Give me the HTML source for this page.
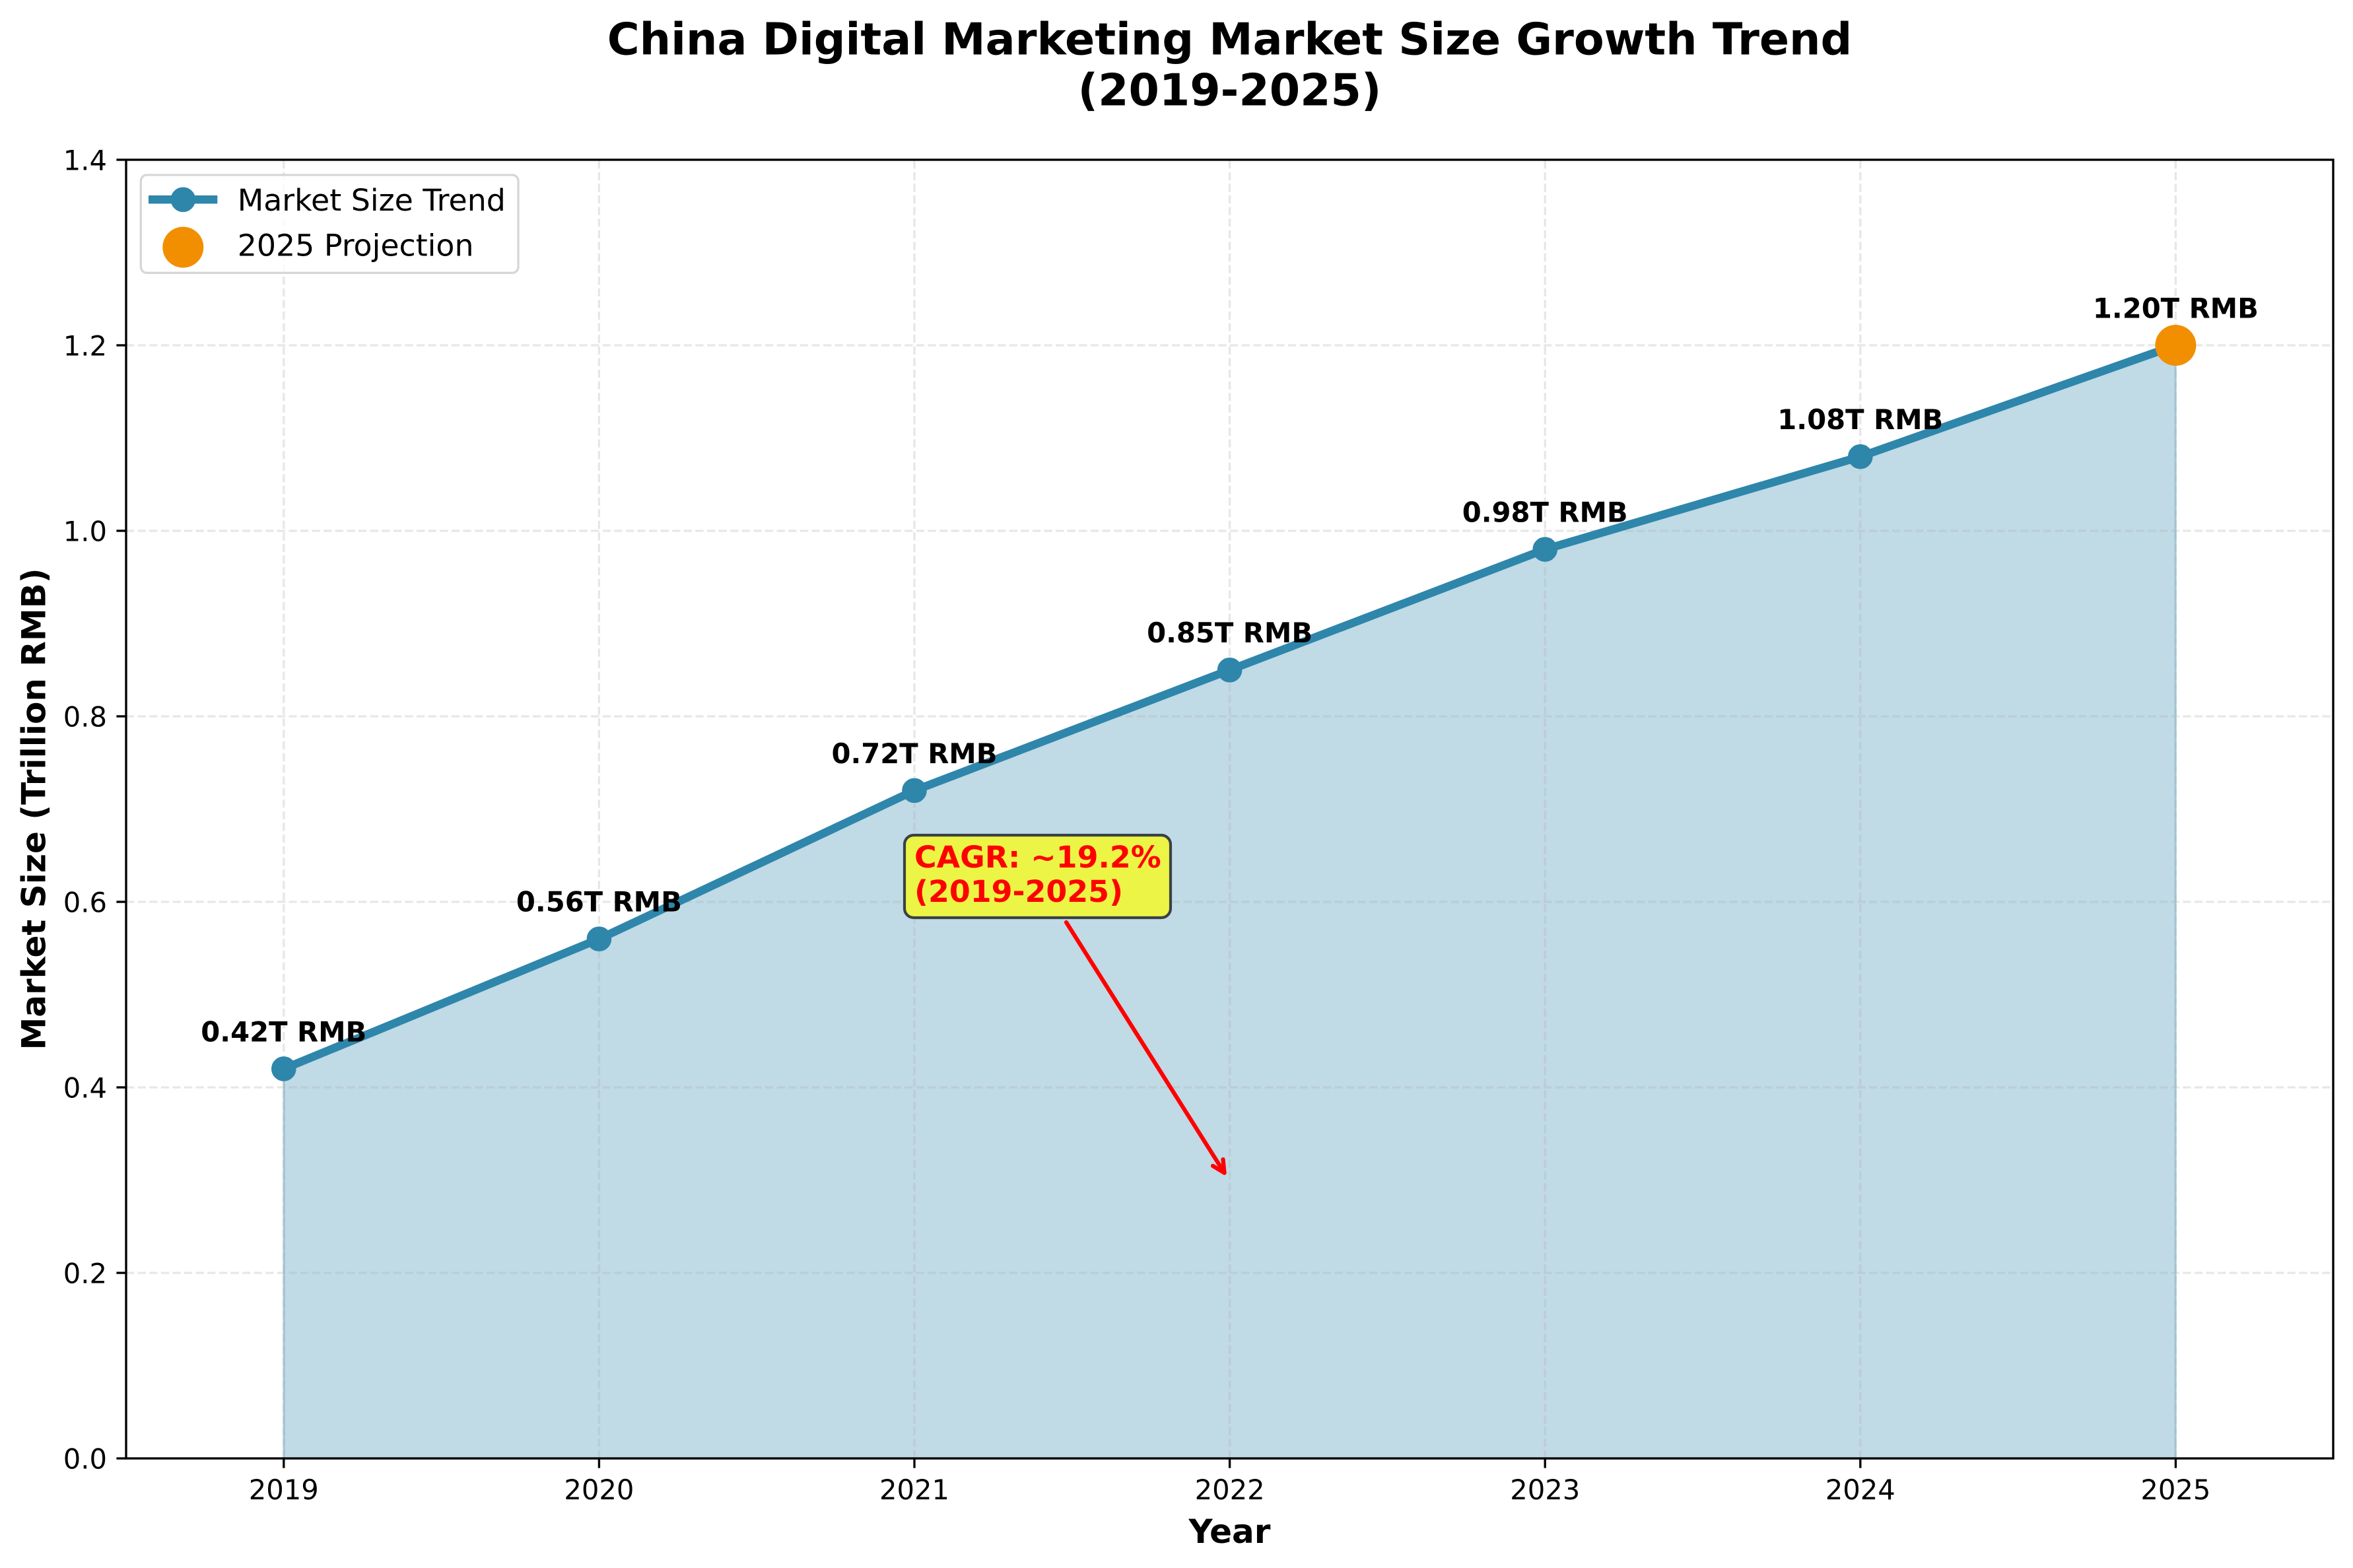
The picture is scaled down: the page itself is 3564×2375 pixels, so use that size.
<!DOCTYPE html>
<html>
<head>
<meta charset="utf-8">
<style>
html,body{margin:0;padding:0;background:#fff;}
svg{display:block;}
text{font-family:"DejaVu Sans","Liberation Sans",sans-serif;}
</style>
</head>
<body>
<svg width="3564" height="2375" viewBox="0 0 3564 2375" xmlns="http://www.w3.org/2000/svg">
<rect x="0" y="0" width="3564" height="2375" fill="#ffffff"/>

<!-- Title -->
<text x="1862.5" y="82.3" font-size="66.67" font-weight="bold" text-anchor="middle" fill="#000">China Digital Marketing Market Size Growth Trend</text>
<text x="1862.5" y="159.3" font-size="66.67" font-weight="bold" text-anchor="middle" fill="#000">(2019-2025)</text>

<!-- Fill area -->
<polygon points="429.8,2209 429.8,1618.9 907.4,1422.2 1385,1197.4 1862.6,1014.8 2340.2,832.1 2817.8,691.6 3295.4,523 3295.4,2209"
  fill="#2E86AB" fill-opacity="0.3" stroke="#2E86AB" stroke-opacity="0.3" stroke-width="3.3"/>

<!-- Grid -->
<g stroke="#b0b0b0" stroke-opacity="0.3" stroke-width="3.33" stroke-dasharray="12.3 5.3" fill="none">
  <line x1="191" y1="1928" x2="3534" y2="1928"/>
  <line x1="191" y1="1647" x2="3534" y2="1647"/>
  <line x1="191" y1="1366" x2="3534" y2="1366"/>
  <line x1="191" y1="1085" x2="3534" y2="1085"/>
  <line x1="191" y1="804" x2="3534" y2="804"/>
  <line x1="191" y1="523" x2="3534" y2="523"/>
  <line x1="429.8" y1="2209" x2="429.8" y2="242"/>
  <line x1="907.4" y1="2209" x2="907.4" y2="242"/>
  <line x1="1385" y1="2209" x2="1385" y2="242"/>
  <line x1="1862.6" y1="2209" x2="1862.6" y2="242"/>
  <line x1="2340.2" y1="2209" x2="2340.2" y2="242"/>
  <line x1="2817.8" y1="2209" x2="2817.8" y2="242"/>
  <line x1="3295.4" y1="2209" x2="3295.4" y2="242"/>
</g>

<!-- Main line -->
<polyline points="429.8,1618.9 907.4,1422.2 1385,1197.4 1862.6,1014.8 2340.2,832.1 2817.8,691.6 3295.4,523"
  fill="none" stroke="#2E86AB" stroke-width="12.5" stroke-linejoin="round" stroke-linecap="square"/>

<!-- Markers -->
<g fill="#2E86AB" stroke="#2E86AB" stroke-width="4.17">
  <circle cx="429.8" cy="1618.9" r="16.7"/>
  <circle cx="907.4" cy="1422.2" r="16.7"/>
  <circle cx="1385" cy="1197.4" r="16.7"/>
  <circle cx="1862.6" cy="1014.8" r="16.7"/>
  <circle cx="2340.2" cy="832.1" r="16.7"/>
  <circle cx="2817.8" cy="691.6" r="16.7"/>
  <circle cx="3295.4" cy="523" r="16.7"/>
</g>

<!-- 2025 projection -->
<circle cx="3295.4" cy="523" r="31" fill="#F18F01"/>

<!-- Data labels -->
<g font-size="41.67" font-weight="bold" text-anchor="middle" fill="#000">
  <text x="429.8" y="1577.4">0.42T RMB</text>
  <text x="907.4" y="1380.7">0.56T RMB</text>
  <text x="1385" y="1155.9">0.72T RMB</text>
  <text x="1862.6" y="973.2">0.85T RMB</text>
  <text x="2340.2" y="790.6">0.98T RMB</text>
  <text x="2817.8" y="650.1">1.08T RMB</text>
  <text x="3295.4" y="481.6">1.20T RMB</text>
</g>

<!-- CAGR annotation arrow -->
<g stroke="#ff0000" stroke-width="6.25" stroke-linecap="round" stroke-linejoin="round" fill="none">
  <line x1="1615" y1="1397" x2="1854.5" y2="1776.5"/>
  <polyline points="1852.5,1756.1 1854.5,1776.5 1837.0,1765.9"/>
</g>

<!-- CAGR box -->
<rect x="1370" y="1265" width="403" height="125" rx="14" ry="14" fill="#ecf445" stroke="#3a4245" stroke-width="4.17"/>
<g font-size="45.83" font-weight="bold" fill="#ff0000">
  <text x="1385" y="1314">CAGR: ~19.2%</text>
  <text x="1385" y="1365.8">(2019-2025)</text>
</g>

<!-- Spines -->
<rect x="191" y="242" width="3343" height="1967" fill="none" stroke="#000" stroke-width="3.33"/>

<!-- Y ticks -->
<g stroke="#000" stroke-width="3.33">
  <line x1="176.4" y1="2209" x2="191" y2="2209"/>
  <line x1="176.4" y1="1928" x2="191" y2="1928"/>
  <line x1="176.4" y1="1647" x2="191" y2="1647"/>
  <line x1="176.4" y1="1366" x2="191" y2="1366"/>
  <line x1="176.4" y1="1085" x2="191" y2="1085"/>
  <line x1="176.4" y1="804" x2="191" y2="804"/>
  <line x1="176.4" y1="523" x2="191" y2="523"/>
  <line x1="176.4" y1="242" x2="191" y2="242"/>
  <!-- X ticks -->
  <line x1="429.8" y1="2209" x2="429.8" y2="2223.6"/>
  <line x1="907.4" y1="2209" x2="907.4" y2="2223.6"/>
  <line x1="1385" y1="2209" x2="1385" y2="2223.6"/>
  <line x1="1862.6" y1="2209" x2="1862.6" y2="2223.6"/>
  <line x1="2340.2" y1="2209" x2="2340.2" y2="2223.6"/>
  <line x1="2817.8" y1="2209" x2="2817.8" y2="2223.6"/>
  <line x1="3295.4" y1="2209" x2="3295.4" y2="2223.6"/>
</g>

<!-- Y tick labels -->
<g font-size="41.67" text-anchor="end" fill="#000">
  <text x="162" y="2224.5">0.0</text>
  <text x="162" y="1943.5">0.2</text>
  <text x="162" y="1662.5">0.4</text>
  <text x="162" y="1381.5">0.6</text>
  <text x="162" y="1100.5">0.8</text>
  <text x="162" y="819.5">1.0</text>
  <text x="162" y="538.5">1.2</text>
  <text x="162" y="257.5">1.4</text>
</g>

<!-- X tick labels -->
<g font-size="41.67" text-anchor="middle" fill="#000">
  <text x="429.8" y="2271">2019</text>
  <text x="907.4" y="2271">2020</text>
  <text x="1385" y="2271">2021</text>
  <text x="1862.6" y="2271">2022</text>
  <text x="2340.2" y="2271">2023</text>
  <text x="2817.8" y="2271">2024</text>
  <text x="3295.4" y="2271">2025</text>
</g>

<!-- Axis labels -->
<text x="1862.5" y="2337" font-size="50" font-weight="bold" text-anchor="middle" fill="#000">Year</text>
<text transform="translate(68.3,1225.5) rotate(-90)" font-size="50" font-weight="bold" text-anchor="middle" fill="#000">Market Size (Trillion RMB)</text>

<!-- Legend -->
<rect x="213.3" y="265" width="571.7" height="148.3" rx="9" ry="9" fill="#ffffff" fill-opacity="0.8" stroke="#d6d6d6" stroke-width="3.33"/>
<line x1="225" y1="302.3" x2="329.3" y2="302.3" stroke="#2E86AB" stroke-width="12.5"/>
<circle cx="277.3" cy="302.3" r="16.7" fill="#2E86AB" stroke="#2E86AB" stroke-width="4.17"/>
<circle cx="277.3" cy="374.5" r="31" fill="#F18F01"/>
<g font-size="45.83" fill="#000">
  <text x="359.7" y="319">Market Size Trend</text>
  <text x="359.7" y="387.3">2025 Projection</text>
</g>
</svg>
</body>
</html>
